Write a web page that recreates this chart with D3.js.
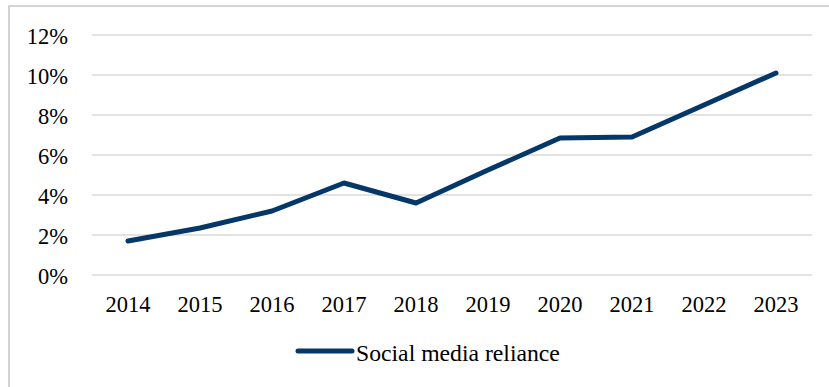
<!DOCTYPE html>
<html><head><meta charset="utf-8">
<script src="https://cdnjs.cloudflare.com/ajax/libs/d3/7.8.5/d3.min.js"></script>
<style>html,body{margin:0;padding:0;background:#fff}svg{display:block}</style>
</head><body>
<svg id="c" width="829" height="387"></svg>
<script>
const years = ["2014","2015","2016","2017","2018","2019","2020","2021","2022","2023"];
const reliance = [1.7, 2.35, 3.2, 4.6, 3.6, 5.25, 6.85, 6.9, 8.5, 10.1];
const yTicks = [0, 2, 4, 6, 8, 10, 12];
const seriesName = "Social media reliance";

(function () {
const svg = d3.select("#c");
const font = "'Liberation Serif','Times New Roman',serif";
const pLeft = 92, pRight = 812, pTop = 35, pBottom = 275;

svg.append("rect").attr("x", 9).attr("y", 6).attr("width", 840).attr("height", 400)
  .attr("fill", "none").attr("stroke", "#c6c6c6").attr("stroke-width", 1.5);

const x = d3.scaleBand().domain(years).range([pLeft, pRight]);
const y = d3.scaleLinear().domain([0, 12]).range([pBottom, pTop]);

const grid = svg.append("g");
grid.selectAll("line").data(yTicks).join("line")
  .attr("x1", pLeft).attr("x2", pRight)
  .attr("y1", d => y(d)).attr("y2", d => y(d))
  .attr("stroke", "#d9d9d9").attr("stroke-width", 1.5);

const yAxis = d3.axisLeft(y).tickValues(yTicks).tickFormat(d => d + "%").tickSize(0).tickPadding(0);
const ya = svg.append("g").attr("transform", "translate(68,0)").call(yAxis);
ya.select(".domain").remove();
ya.selectAll("text").attr("font-family", font).attr("font-size", 22.5).attr("fill", "#000")
  .attr("dy", null).attr("y", 8);

const xAxis = d3.axisBottom(x).tickSize(0).tickPadding(0);
const xa = svg.append("g").attr("transform", "translate(0,0)").call(xAxis);
xa.select(".domain").remove();
xa.selectAll("text").attr("font-family", font).attr("font-size", 22.5).attr("fill", "#000")
  .attr("dy", null).attr("y", 312);

const line = d3.line().x((d, i) => x(years[i]) + x.bandwidth() / 2).y(d => y(d));
svg.append("path").datum(reliance).attr("d", line)
  .attr("fill", "none").attr("stroke", "#053868").attr("stroke-width", 5)
  .attr("stroke-linecap", "round").attr("stroke-linejoin", "round");

const lg = svg.append("g");
lg.append("line").attr("x1", 298).attr("x2", 352).attr("y1", 351).attr("y2", 351)
  .attr("stroke", "#053868").attr("stroke-width", 5).attr("stroke-linecap", "round");
lg.append("text").attr("x", 356).attr("y", 361).attr("font-family", font).attr("font-size", 23.7)
  .attr("fill", "#000").text(seriesName);
})();
</script>
</body></html>
